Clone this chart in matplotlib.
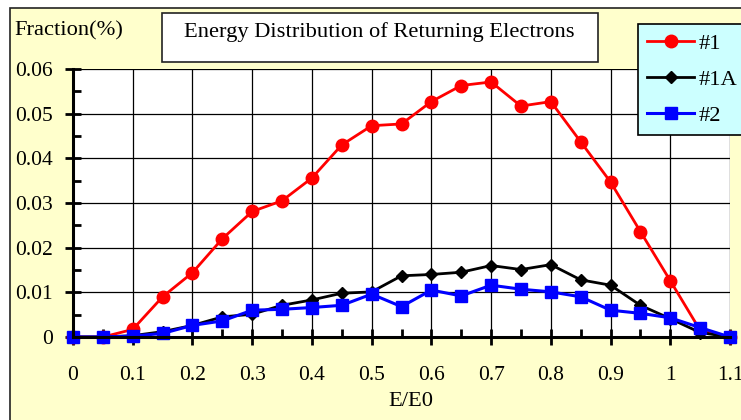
import matplotlib
matplotlib.use("Agg")
import matplotlib.pyplot as plt
from matplotlib.patches import Rectangle
from matplotlib.ticker import MultipleLocator, FixedLocator

# ---- data ----
x_vals = [0.00, 0.05, 0.10, 0.15, 0.20, 0.25, 0.30, 0.35, 0.40, 0.45, 0.50, 0.55,
          0.60, 0.65, 0.70, 0.75, 0.80, 0.85, 0.90, 0.95, 1.00, 1.05, 1.10]
series_1 = [0, 0, 0.0017, 0.0090, 0.0144, 0.0220, 0.0281, 0.0305, 0.0356, 0.0430, 0.0473, 0.0477,
            0.0527, 0.0563, 0.0571, 0.0517, 0.0527, 0.0437, 0.0347, 0.0236, 0.0126, 0.0015, 0]
series_1A = [0, 0, 0.0003, 0.0012, 0.0026, 0.0045, 0.0051, 0.0071, 0.0083, 0.0098, 0.0101, 0.0137,
             0.0140, 0.0145, 0.0160, 0.0151, 0.0162, 0.0128, 0.0116, 0.0071, 0.0041, 0.0010, 0]
series_2 = [0, 0, 0.0002, 0.0008, 0.0026, 0.0036, 0.0060, 0.0062, 0.0066, 0.0071, 0.0096, 0.0068,
            0.0105, 0.0092, 0.0116, 0.0107, 0.0101, 0.0090, 0.0060, 0.0053, 0.0043, 0.0021, 0]
series_labels = ["#1", "#1A", "#2"]
x_ticks = [0, 0.1, 0.2, 0.3, 0.4, 0.5, 0.6, 0.7, 0.8, 0.9, 1.0, 1.1]
x_tick_labels = ["0", "0.1", "0.2", "0.3", "0.4", "0.5", "0.6", "0.7", "0.8", "0.9", "1", "1.1"]
y_ticks = [0, 0.01, 0.02, 0.03, 0.04, 0.05, 0.06]
y_tick_labels = ["0", "0.01", "0.02", "0.03", "0.04", "0.05", "0.06"]
title = "Energy Distribution of Returning Electrons"
y_title = "Fraction(%)"
x_title = "E/E0"

plt.rcParams['font.family'] = ['Liberation Serif', 'DejaVu Serif']

W, H = 741, 420
fig = plt.figure(figsize=(W / 100, H / 100), dpi=100, facecolor="white")

def fx(px):
    return px / W

def fy(py):
    return 1 - py / H

# chart background with border (clipped on right/bottom)
bg = Rectangle((fx(10), -0.05), 1.2, fy(8) + 0.05, transform=fig.transFigure,
               facecolor="#FFFFCC", edgecolor="#222222", linewidth=1.2, zorder=-10)
fig.patches.append(bg)

tb = Rectangle((fx(162), fy(62)), fx(598) - fx(162), fy(13) - fy(62), transform=fig.transFigure,
               facecolor="white", edgecolor="#222222", linewidth=1.2, zorder=-5)
fig.patches.append(tb)

ax = fig.add_axes([fx(73), fy(337), fx(730) - fx(73), fy(69) - fy(337)])
ax.set_facecolor("white")

ax.plot(x_vals, series_1, color="#FF0000", lw=2.0, marker="o", ms=9, mec="#FF0000",
        mfc="#FF0000", label=series_labels[0], zorder=3, clip_on=False)
ax.plot(x_vals, series_1A, color="black", lw=2.0, marker="D", ms=6, mec="black",
        mfc="black", label=series_labels[1], zorder=4, clip_on=False)
ax.plot(x_vals, series_2, color="#0000FF", lw=2.2, marker="s", ms=8.5, mec="#0000FF",
        mfc="#0000FF", label=series_labels[2], zorder=5, clip_on=False)

ax.set_xlim(0, 1.1)
ax.set_ylim(0, 0.06)
ax.xaxis.set_major_locator(FixedLocator(x_ticks))
ax.set_xticklabels(x_tick_labels)
ax.xaxis.set_minor_locator(MultipleLocator(0.05))
ax.yaxis.set_major_locator(FixedLocator(y_ticks))
ax.set_yticklabels(y_tick_labels)
ax.yaxis.set_minor_locator(MultipleLocator(0.005))

ax.grid(True, which="major", color="black", lw=0.9, zorder=1)
ax.set_axisbelow(True)

for s in ["top", "right"]:
    ax.spines[s].set_visible(False)
for s in ["left", "bottom"]:
    ax.spines[s].set_linewidth(2.2)
    ax.spines[s].set_zorder(6)

ax.tick_params(which="major", direction="inout", length=12, width=2, labelsize=15.5,
               colors="black")
ax.tick_params(axis="y", which="major", pad=8.5)
ax.tick_params(axis="x", which="major", pad=15)
ax.tick_params(which="minor", direction="in", length=6, width=2, colors="black")

fig.text(fx(379), fy(32), title, ha="center", va="center", fontsize=16.2)
fig.text(fx(14), fy(31), y_title, ha="left", va="center", fontsize=16.2)
fig.text(fx(411), fy(402), x_title, ha="center", va="center", fontsize=16.2)

leg = fig.legend(loc="upper left", bbox_to_anchor=(fx(638), fy(24)), fontsize=16.2,
                 frameon=True, fancybox=False, facecolor="#CCFFFF", edgecolor="black",
                 framealpha=1, handlelength=2.1, handletextpad=0.2, labelspacing=0.68,
                 borderpad=0.4, borderaxespad=0)
leg.get_frame().set_linewidth(1.2)
leg.set_zorder(10)

fig.savefig("out.png", dpi=100, facecolor="white")
